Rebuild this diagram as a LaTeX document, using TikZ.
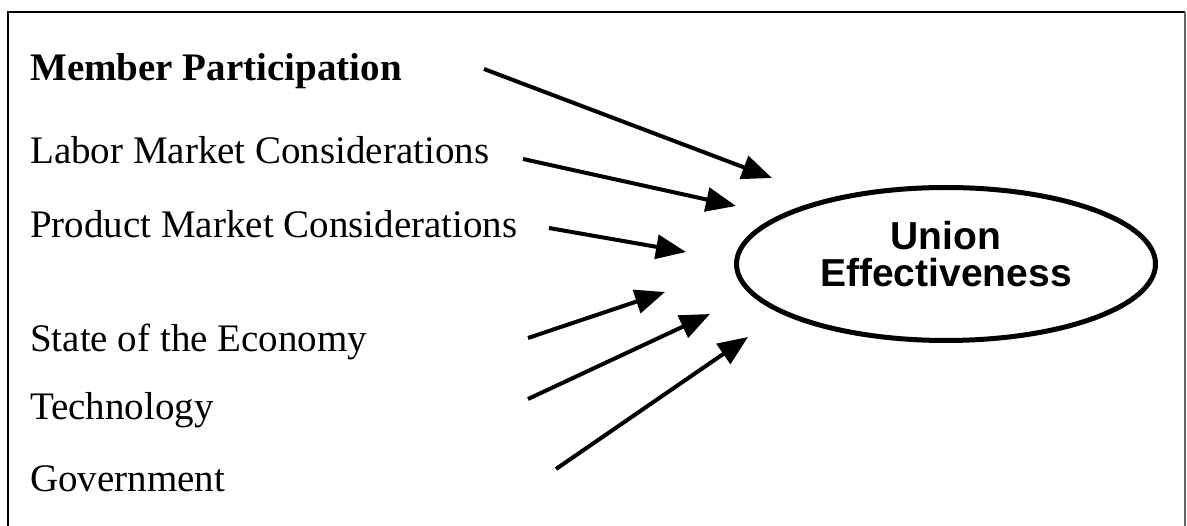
\documentclass[tikz,border=0pt]{standalone}
\usepackage{fontspec}
\setmainfont{Liberation Serif}
\newfontfamily\uesans{Liberation Sans}
\usetikzlibrary{arrows.meta,shapes.geometric}
\tikzset{
  factor/.style={anchor=base west, inner sep=0pt, font=\fontsize{39}{44}\selectfont},
  link/.style={line width=4pt, -{Triangle[length=30pt,width=24pt]}},
  outcome/.style={draw, ellipse, line width=5pt, inner sep=0pt, minimum width=419pt, minimum height=153pt},
}
\begin{document}
\begin{tikzpicture}[x=1pt,y=-1pt]
\useasboundingbox (0,0) rectangle (1187,526);
% frame (open at the bottom)
\draw[line width=2.5pt] (8,530) -- (8,12) -- (1185,12);
\draw[line width=1.5pt, black!60] (1185,12) -- (1185,530);
% factors
\node[factor, font=\bfseries\fontsize{39}{44}\selectfont] (mp) at (30,81) {Member Participation};
\node[factor] (lm) at (30,164) {Labor Market Considerations};
\node[factor] (pm) at (30,238) {Product Market Considerations};
\node[factor] (se) at (30,352) {State of the Economy};
\node[factor] (te) at (30,420) {Technology};
\node[factor] (go) at (30,492) {Government};
% outcome
\node[outcome] (ue) at (946,264) {};
\node[font=\uesans\bfseries\fontsize{39}{37}\selectfont, align=center, inner sep=0pt] (uet) at (946,254.5) {Union\\Effectiveness};
% arrow ends
\coordinate (s1) at (484,69);  \coordinate (e1) at (772,178);
\coordinate (s2) at (523,159); \coordinate (e2) at (736,206);
\coordinate (s3) at (549,228); \coordinate (e3) at (686,252);
\coordinate (s4) at (528,338); \coordinate (e4) at (665,292);
\coordinate (s5) at (528,399); \coordinate (e5) at (710,314);
\coordinate (s6) at (556,469); \coordinate (e6) at (748,337);
\draw[link] (s1) -- (e1);
\draw[link] (s2) -- (e2);
\draw[link] (s3) -- (e3);
\draw[link] (s4) -- (e4);
\draw[link] (s5) -- (e5);
\draw[link] (s6) -- (e6);
\end{tikzpicture}
\end{document}
